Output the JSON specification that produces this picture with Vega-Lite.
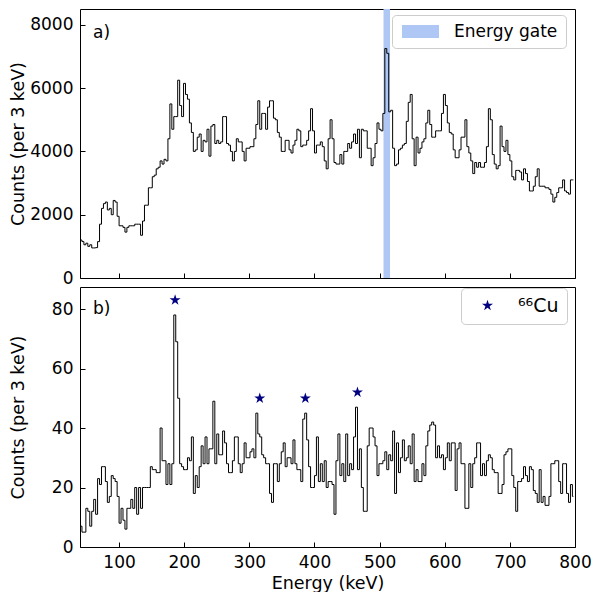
{
"$schema": "https://vega.github.io/schema/vega-lite/v6.json",
"background": "white",
"padding": {"left": 8, "top": 8, "right": 8, "bottom": 5},
"spacing": -4,
"resolve": {"scale": {"color": "independent"}, "legend": {"color": "independent"}},
"config": {
  "font": "DejaVu Sans",
  "view": {"stroke": "black", "strokeWidth": 1},
  "axis": {"grid": false, "domain": false, "tickSize": -5, "tickColor": "black", "tickWidth": 1, "labelPadding": 12, "labelFontSize": 17, "labelColor": "black", "labelFlush": false, "titleFontSize": 17.5, "titleFontWeight": "normal", "titleColor": "black"},
  "legend": {"orient": "none", "title": null, "fillColor": "white", "strokeColor": "#cccccc", "cornerRadius": 4, "padding": 8, "labelFontSize": 17, "labelColor": "black"}
},
"datasets": {
  "gate": [{"lo": 506, "hi": 516, "k": "Energy gate"}],
  "stars": [{"E": 186, "c": 83, "k": "⁶⁶Cu"}, {"E": 316, "c": 50, "k": "⁶⁶Cu"}, {"E": 386, "c": 50, "k": "⁶⁶Cu"}, {"E": 466, "c": 52, "k": "⁶⁶Cu"}],
  "spec": [
{"E":41.5,"a":1200,"b":7},{"E":44.5,"a":1150,"b":5},{"E":47.5,"a":1050,"b":5},{"E":50.5,"a":1100,"b":13},{"E":53.5,"a":1000,"b":12},{"E":56.5,"a":1050,"b":7},{"E":59.5,"a":950,"b":12},{"E":62.5,"a":950,"b":16},{"E":65.5,"a":960,"b":11},{"E":68.5,"a":1150,"b":23},
{"E":71.5,"a":1700,"b":21},{"E":74.5,"a":2200,"b":27},{"E":77.5,"a":2350,"b":27},{"E":80.5,"a":2400,"b":22},{"E":83.5,"a":2150,"b":15},{"E":86.5,"a":2200,"b":17},{"E":89.5,"a":2000,"b":24},{"E":92.5,"a":2450,"b":23},{"E":95.5,"a":2400,"b":22},{"E":98.5,"a":1950,"b":17},
{"E":101.5,"a":1650,"b":8},{"E":104.5,"a":1650,"b":13},{"E":107.5,"a":1600,"b":9},{"E":110.5,"a":1450,"b":6},{"E":113.5,"a":1600,"b":13},{"E":116.5,"a":1650,"b":13},{"E":119.5,"a":1650,"b":16},{"E":122.5,"a":1650,"b":13},{"E":125.5,"a":1700,"b":20},{"E":128.5,"a":1700,"b":11},
{"E":131.5,"a":1700,"b":20},{"E":134.5,"a":1350,"b":13},{"E":137.5,"a":1800,"b":20},{"E":140.5,"a":2300,"b":20},{"E":143.5,"a":2300,"b":20},{"E":146.5,"a":2850,"b":20},{"E":149.5,"a":2850,"b":27},{"E":152.5,"a":3200,"b":26},{"E":155.5,"a":3250,"b":26},{"E":158.5,"a":3450,"b":25},
{"E":161.5,"a":3500,"b":25},{"E":164.5,"a":3700,"b":40},{"E":167.5,"a":3600,"b":29},{"E":170.5,"a":3750,"b":29},{"E":173.5,"a":3700,"b":21},{"E":176.5,"a":4400,"b":28},{"E":179.5,"a":5500,"b":21},{"E":182.5,"a":4700,"b":28},{"E":185.5,"a":5100,"b":78},{"E":188.5,"a":5100,"b":69},
{"E":191.5,"a":6250,"b":50},{"E":194.5,"a":5450,"b":28},{"E":197.5,"a":5100,"b":27},{"E":200.5,"a":6150,"b":26},{"E":203.5,"a":5800,"b":26},{"E":206.5,"a":5650,"b":30},{"E":209.5,"a":4900,"b":29},{"E":212.5,"a":4600,"b":37},{"E":215.5,"a":4000,"b":18},{"E":218.5,"a":4050,"b":24},
{"E":221.5,"a":4450,"b":20},{"E":224.5,"a":4550,"b":27},{"E":227.5,"a":4000,"b":34},{"E":230.5,"a":4350,"b":28},{"E":233.5,"a":4300,"b":37},{"E":236.5,"a":4700,"b":28},{"E":239.5,"a":3850,"b":33},{"E":242.5,"a":4800,"b":33},{"E":245.5,"a":4850,"b":49},{"E":248.5,"a":4250,"b":28},
{"E":251.5,"a":4350,"b":38},{"E":254.5,"a":4250,"b":31},{"E":257.5,"a":4300,"b":31},{"E":260.5,"a":5100,"b":39},{"E":263.5,"a":5100,"b":35},{"E":266.5,"a":4250,"b":28},{"E":269.5,"a":4200,"b":25},{"E":272.5,"a":4000,"b":25},{"E":275.5,"a":3700,"b":29},{"E":278.5,"a":4000,"b":37},
{"E":281.5,"a":4400,"b":37},{"E":284.5,"a":4300,"b":28},{"E":287.5,"a":4300,"b":25},{"E":290.5,"a":4000,"b":28},{"E":293.5,"a":3700,"b":35},{"E":296.5,"a":4100,"b":30},{"E":299.5,"a":4100,"b":30},{"E":302.5,"a":4150,"b":32},{"E":305.5,"a":4150,"b":33},{"E":308.5,"a":4400,"b":30},
{"E":311.5,"a":4850,"b":45},{"E":314.5,"a":5600,"b":38},{"E":317.5,"a":4700,"b":37},{"E":320.5,"a":5200,"b":31},{"E":323.5,"a":5200,"b":30},{"E":326.5,"a":4700,"b":28},{"E":329.5,"a":5400,"b":28},{"E":332.5,"a":5600,"b":18},{"E":335.5,"a":5600,"b":15},{"E":338.5,"a":5050,"b":28},
{"E":341.5,"a":5000,"b":28},{"E":344.5,"a":4600,"b":22},{"E":347.5,"a":4450,"b":28},{"E":350.5,"a":4000,"b":32},{"E":353.5,"a":4000,"b":35},{"E":356.5,"a":4350,"b":27},{"E":359.5,"a":4350,"b":30},{"E":362.5,"a":4050,"b":30},{"E":365.5,"a":3950,"b":28},{"E":368.5,"a":4200,"b":36},
{"E":371.5,"a":4350,"b":28},{"E":374.5,"a":4700,"b":26},{"E":377.5,"a":4650,"b":26},{"E":380.5,"a":4150,"b":22},{"E":383.5,"a":4200,"b":43},{"E":386.5,"a":4200,"b":45},{"E":389.5,"a":4350,"b":36},{"E":392.5,"a":4650,"b":27},{"E":395.5,"a":5350,"b":20},{"E":398.5,"a":4650,"b":20},
{"E":401.5,"a":3950,"b":24},{"E":404.5,"a":4200,"b":37},{"E":407.5,"a":4200,"b":22},{"E":410.5,"a":4300,"b":28},{"E":413.5,"a":4150,"b":22},{"E":416.5,"a":3700,"b":29},{"E":419.5,"a":3450,"b":20},{"E":422.5,"a":4400,"b":22},{"E":425.5,"a":5000,"b":22},{"E":428.5,"a":4400,"b":21},
{"E":431.5,"a":3650,"b":11},{"E":434.5,"a":3600,"b":29},{"E":437.5,"a":3600,"b":38},{"E":440.5,"a":3900,"b":24},{"E":443.5,"a":3600,"b":28},{"E":446.5,"a":4000,"b":22},{"E":449.5,"a":4000,"b":38},{"E":452.5,"a":4250,"b":24},{"E":455.5,"a":4100,"b":28},{"E":458.5,"a":4300,"b":26},
{"E":461.5,"a":4550,"b":37},{"E":464.5,"a":4250,"b":47},{"E":467.5,"a":4700,"b":26},{"E":470.5,"a":3800,"b":33},{"E":473.5,"a":4700,"b":20},{"E":476.5,"a":4650,"b":12},{"E":479.5,"a":4650,"b":12},{"E":482.5,"a":4100,"b":34},{"E":485.5,"a":4100,"b":40},{"E":488.5,"a":3550,"b":40},
{"E":491.5,"a":3800,"b":37},{"E":494.5,"a":4250,"b":34},{"E":497.5,"a":4900,"b":24},{"E":500.5,"a":4700,"b":28},{"E":503.5,"a":4650,"b":28},{"E":506.5,"a":5200,"b":29},{"E":509.5,"a":7250,"b":32},{"E":512.5,"a":7100,"b":26},{"E":515.5,"a":5250,"b":31},{"E":518.5,"a":5300,"b":29},
{"E":521.5,"a":4100,"b":39},{"E":524.5,"a":3550,"b":18},{"E":527.5,"a":3600,"b":35},{"E":530.5,"a":4050,"b":25},{"E":533.5,"a":4100,"b":30},{"E":536.5,"a":4200,"b":36},{"E":539.5,"a":4250,"b":29},{"E":542.5,"a":4950,"b":30},{"E":545.5,"a":5550,"b":34},{"E":548.5,"a":5800,"b":28},
{"E":551.5,"a":4400,"b":38},{"E":554.5,"a":3550,"b":22},{"E":557.5,"a":4450,"b":26},{"E":560.5,"a":3950,"b":22},{"E":563.5,"a":4100,"b":22},{"E":566.5,"a":4300,"b":28},{"E":569.5,"a":4400,"b":24},{"E":572.5,"a":4900,"b":34},{"E":575.5,"a":5300,"b":39},{"E":578.5,"a":4850,"b":41},
{"E":581.5,"a":4450,"b":42},{"E":584.5,"a":4450,"b":41},{"E":587.5,"a":4650,"b":30},{"E":590.5,"a":4650,"b":34},{"E":593.5,"a":4650,"b":30},{"E":596.5,"a":5200,"b":31},{"E":599.5,"a":5800,"b":26},{"E":602.5,"a":5450,"b":30},{"E":605.5,"a":4900,"b":35},{"E":608.5,"a":4600,"b":29},
{"E":611.5,"a":4550,"b":35},{"E":614.5,"a":4050,"b":35},{"E":617.5,"a":3800,"b":19},{"E":620.5,"a":3800,"b":33},{"E":623.5,"a":4050,"b":35},{"E":626.5,"a":4450,"b":28},{"E":629.5,"a":4450,"b":28},{"E":632.5,"a":5000,"b":13},{"E":635.5,"a":4150,"b":13},{"E":638.5,"a":3950,"b":28},
{"E":641.5,"a":3700,"b":20},{"E":644.5,"a":3300,"b":28},{"E":647.5,"a":3650,"b":30},{"E":650.5,"a":3500,"b":35},{"E":653.5,"a":3650,"b":35},{"E":656.5,"a":3500,"b":24},{"E":659.5,"a":3500,"b":28},{"E":662.5,"a":3650,"b":24},{"E":665.5,"a":4150,"b":29},{"E":668.5,"a":5350,"b":31},
{"E":671.5,"a":5000,"b":30},{"E":674.5,"a":3900,"b":26},{"E":677.5,"a":3600,"b":25},{"E":680.5,"a":3450,"b":25},{"E":683.5,"a":3550,"b":18},{"E":686.5,"a":4800,"b":18},{"E":689.5,"a":4150,"b":21},{"E":692.5,"a":4000,"b":31},{"E":695.5,"a":4350,"b":32},{"E":698.5,"a":3900,"b":33},
{"E":701.5,"a":3700,"b":33},{"E":704.5,"a":3200,"b":24},{"E":707.5,"a":3100,"b":20},{"E":710.5,"a":3400,"b":12},{"E":713.5,"a":3400,"b":22},{"E":716.5,"a":3350,"b":22},{"E":719.5,"a":3100,"b":23},{"E":722.5,"a":3450,"b":27},{"E":725.5,"a":3300,"b":24},{"E":728.5,"a":3050,"b":22},
{"E":731.5,"a":2750,"b":27},{"E":734.5,"a":2750,"b":26},{"E":737.5,"a":2900,"b":19},{"E":740.5,"a":3200,"b":18},{"E":743.5,"a":3450,"b":15},{"E":746.5,"a":2900,"b":26},{"E":749.5,"a":2900,"b":15},{"E":752.5,"a":2900,"b":17},{"E":755.5,"a":2850,"b":14},{"E":758.5,"a":2850,"b":14},
{"E":761.5,"a":2800,"b":17},{"E":764.5,"a":2650,"b":28},{"E":767.5,"a":2400,"b":28},{"E":770.5,"a":2550,"b":29},{"E":773.5,"a":2700,"b":29},{"E":776.5,"a":2850,"b":22},{"E":779.5,"a":2850,"b":18},{"E":782.5,"a":3100,"b":28},{"E":785.5,"a":2750,"b":28},{"E":788.5,"a":2700,"b":18},
{"E":791.5,"a":2650,"b":15},{"E":794.5,"a":3100,"b":21},{"E":797.5,"a":3100,"b":17}
  ]
},
"vconcat": [
  {
    "width": 495, "height": 269,
    "layer": [
      {
        "data": {"name": "gate"},
        "mark": {"type": "rect"},
        "encoding": {
          "x": {"field": "lo", "type": "quantitative", "scale": {"domain": [40, 800], "nice": false, "zero": false}, "axis": {"values": [100, 200, 300, 400, 500, 600, 700, 800], "labels": false, "title": null}},
          "x2": {"field": "hi"},
          "color": {"field": "k", "type": "nominal", "scale": {"range": ["#AEC7F4"]}, "legend": {"legendX": 312, "legendY": 6, "symbolType": "M-2.85,-1H2.85V1H-2.85Z", "symbolSize": 169, "symbolOffset": 12, "labelOffset": 25, "symbolStrokeWidth": 0}}
        }
      },
      {
        "data": {"name": "spec"},
        "mark": {"type": "line", "interpolate": "step", "color": "black", "strokeWidth": 1},
        "encoding": {
          "x": {"field": "E", "type": "quantitative", "scale": {"domain": [40, 800], "nice": false, "zero": false}},
          "y": {"field": "a", "type": "quantitative", "scale": {"domain": [0, 8500], "nice": false}, "axis": {"values": [0, 2000, 4000, 6000, 8000], "format": "d", "title": "Counts (per 3 keV)", "titleX": -62, "titleY": 134.5, "titleBaseline": "middle"}}
        }
      },
      {
        "data": {"values": [{}]},
        "mark": {"type": "text", "text": "a)", "align": "left", "baseline": "middle", "fontSize": 17, "color": "black"},
        "encoding": {"x": {"datum": 60, "type": "quantitative"}, "y": {"datum": 7750, "type": "quantitative"}}
      }
    ]
  },
  {
    "width": 495, "height": 260,
    "layer": [
      {
        "data": {"name": "spec"},
        "mark": {"type": "line", "interpolate": "step", "color": "black", "strokeWidth": 1},
        "encoding": {
          "x": {"field": "E", "type": "quantitative", "scale": {"domain": [40, 800], "nice": false, "zero": false}, "axis": {"values": [100, 200, 300, 400, 500, 600, 700, 800], "format": "d", "title": "Energy (keV)", "titlePadding": 4}},
          "y": {"field": "b", "type": "quantitative", "scale": {"domain": [0, 87.4], "nice": false}, "axis": {"values": [0, 20, 40, 60, 80], "format": "d", "title": "Counts (per 3 keV)", "titleX": -62, "titleY": 130, "titleBaseline": "middle"}}
        }
      },
      {
        "data": {"name": "stars"},
        "mark": {"type": "point", "filled": true, "opacity": 1, "shape": "M0,-1L0.2245,-0.309L0.951,-0.309L0.363,0.118L0.588,0.809L0,0.382L-0.588,0.809L-0.363,0.118L-0.951,-0.309L-0.2245,-0.309Z", "size": 134},
        "encoding": {
          "x": {"field": "E", "type": "quantitative"},
          "y": {"field": "c", "type": "quantitative"},
          "color": {"field": "k", "type": "nominal", "scale": {"range": ["#000080"]}, "legend": {"legendX": 381, "legendY": 1, "symbolType": "M0,-1L0.2245,-0.309L0.951,-0.309L0.363,0.118L0.588,0.809L0,0.382L-0.588,0.809L-0.363,0.118L-0.951,-0.309L-0.2245,-0.309Z", "symbolSize": 134, "symbolOffset": 9, "labelOffset": 21, "labelFontSize": 19, "symbolFillColor": "#000080", "symbolStrokeWidth": 0}}
        }
      },
      {
        "data": {"values": [{}]},
        "mark": {"type": "text", "text": "b)", "align": "left", "baseline": "middle", "fontSize": 17, "color": "black"},
        "encoding": {"x": {"datum": 60, "type": "quantitative"}, "y": {"datum": 80, "type": "quantitative"}}
      }
    ]
  }
]
}
